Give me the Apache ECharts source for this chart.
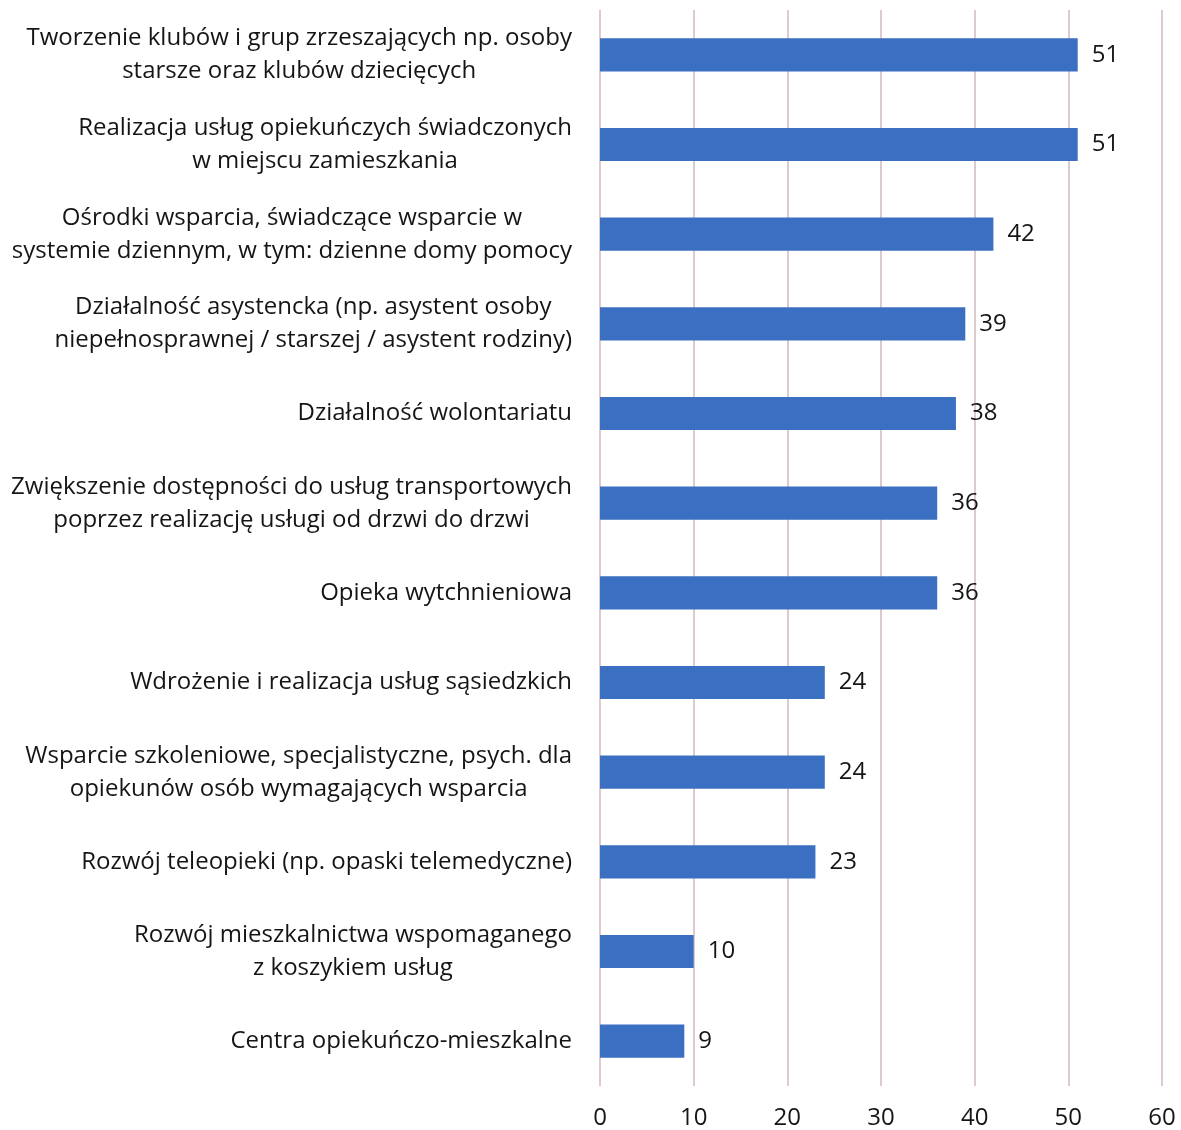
<!DOCTYPE html>
<html>
<head>
<meta charset="utf-8">
<script src="https://cdn.jsdelivr.net/npm/echarts@6/dist/echarts.min.js"></script>
<style>
html,body{margin:0;padding:0;background:#fff;}
#chart{width:1181px;height:1130px;}
</style>
</head>
<body>
<div id="chart"></div>
<script>
const categories = [
  "Tworzenie klubów i grup zrzeszających np. osoby\nstarsze oraz klubów dziecięcych",
  "Realizacja usług opiekuńczych świadczonych\nw miejscu zamieszkania",
  "Ośrodki wsparcia, świadczące wsparcie w\nsystemie dziennym, w tym: dzienne domy pomocy",
  "Działalność asystencka (np. asystent osoby\nniepełnosprawnej / starszej / asystent rodziny)",
  "Działalność wolontariatu",
  "Zwiększenie dostępności do usług transportowych\npoprzez realizację usługi od drzwi do drzwi",
  "Opieka wytchnieniowa",
  "Wdrożenie i realizacja usług sąsiedzkich",
  "Wsparcie szkoleniowe, specjalistyczne, psych. dla\nopiekunów osób wymagających wsparcia",
  "Rozwój teleopieki (np. opaski telemedyczne)",
  "Rozwój mieszkalnictwa wspomaganego\nz koszykiem usług",
  "Centra opiekuńczo-mieszkalne"
];
const values = [51, 51, 42, 39, 38, 36, 36, 24, 24, 23, 10, 9];
const xTicks = [0, 10, 20, 30, 40, 50, 60];

const chart = echarts.init(document.getElementById('chart'));
chart.setOption({
  animation: false,
  backgroundColor: '#ffffff',
  textStyle: { fontFamily: 'Open Sans' },
  grid: { left: 600, right: 19, top: 10, bottom: 43, containLabel: false },
  xAxis: {
    type: 'value',
    min: xTicks[0],
    max: xTicks[xTicks.length - 1],
    interval: 10,
    axisLine: { show: false },
    axisTick: { show: false },
    axisLabel: { color: '#151515', fontSize: 24, margin: 20, fontFamily: 'Open Sans' },
    splitLine: { show: true, lineStyle: { color: '#dccbce', width: 2 } }
  },
  yAxis: {
    type: 'category',
    inverse: true,
    data: categories,
    axisLine: { show: false },
    axisTick: { show: false },
    axisLabel: {
      color: '#151515', fontSize: 24, margin: 28, align: 'right',
      lineHeight: 33, fontFamily: 'Open Sans',
      formatter: function (v) {
        return v.split('\n').map(function (l) { return '{c|' + l + '}'; }).join('\n');
      },
      rich: {
        c: { align: 'center', fontSize: 24, lineHeight: 33, color: '#151515', fontFamily: 'Open Sans' }
      }
    }
  },
  series: [{
    type: 'bar',
    data: values,
    barWidth: '37%',
    itemStyle: { color: '#3b6fc1' },
    label: {
      show: true, position: 'right', distance: 14,
      color: '#151515', fontSize: 24, fontFamily: 'Open Sans'
    }
  }]
});
</script>
</body>
</html>
